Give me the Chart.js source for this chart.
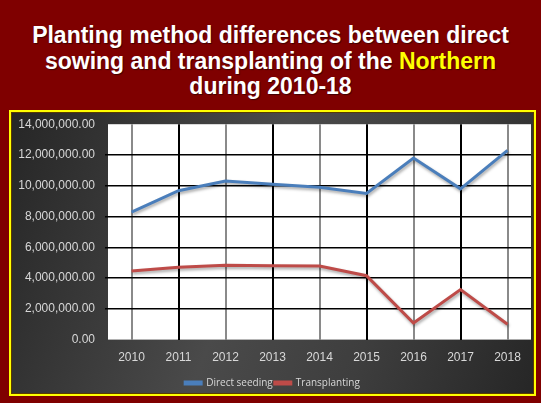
<!DOCTYPE html>
<html>
<head>
<meta charset="utf-8">
<script src="https://cdn.jsdelivr.net/npm/chart.js@4"></script>
<style>
  html, body { margin: 0; padding: 0; }
  body { width: 541px; height: 403px; background: #7f0000; position: relative; overflow: hidden; }
  #title {
    position: absolute; left: 0; top: 23px; width: 541px; text-align: center;
    font-family: "Liberation Sans", Arial, sans-serif; font-weight: bold; font-size: 23px;
    line-height: 25.5px; color: #ffffff; text-shadow: 1px 1px 1px rgba(0,0,0,0.5);
  }
  #title .hl { color: #ffff00; }
  #box {
    position: absolute; left: 9px; top: 110px; width: 523px; height: 282px;
    border: 2px solid #ffff00;
    box-shadow: inset 0 0 0 1px #5a3a00;
    background: linear-gradient(110deg, #262626 0%, #4a4a4a 45%, #3e3e3e 70%, #262626 100%);
  }
  #wrap { position: absolute; left: 3px; top: -5px; width: 521px; height: 291px; }
</style>
</head>
<body>
<div id="title">Planting method differences between direct<br>sowing and transplanting of the <span class="hl">Northern</span><br>during 2010-18</div>
<div id="box"><div id="wrap"><canvas id="chart"></canvas></div></div>
<script>
const years = ['2010', '2011', '2012', '2013', '2014', '2015', '2016', '2017', '2018'];
const directSeeding = [8280000, 9680000, 10300000, 10100000, 9900000, 9500000, 11800000, 9800000, 12300000];
const transplanting = [4460000, 4700000, 4840000, 4800000, 4780000, 4150000, 1080000, 3250000, 1000000];
const yMax = 14000000;
const yStep = 2000000;

const plotBg = {
    id: 'plotBg',
    beforeDraw(chart) {
        const { ctx, chartArea: a } = chart;
        ctx.save();
        ctx.fillStyle = '#ffffff';
        ctx.fillRect(a.left, a.top, a.right - a.left, a.bottom - a.top);
        ctx.restore();
    }
};

const lineShadow = {
    id: 'lineShadow',
    beforeDatasetsDraw(chart) {
        const ctx = chart.ctx;
        ctx.save();
        ctx.shadowColor = 'rgba(0,0,0,0.35)';
        ctx.shadowBlur = 3;
        ctx.shadowOffsetX = 1;
        ctx.shadowOffsetY = 2;
    },
    afterDatasetsDraw(chart) {
        chart.ctx.restore();
    }
};

const ctx = document.getElementById('chart').getContext('2d');
new Chart(ctx, {
    type: 'line',
    data: {
        labels: years,
        datasets: [
            {
                label: 'Direct seeding',
                data: directSeeding,
                borderColor: '#4a7ebb',
                backgroundColor: '#4a7ebb',
                borderWidth: 3,
                pointRadius: 0,
                tension: 0
            },
            {
                label: 'Transplanting',
                data: transplanting,
                borderColor: '#be4b48',
                backgroundColor: '#be4b48',
                borderWidth: 3,
                pointRadius: 0,
                tension: 0
            }
        ]
    },
    options: {
        responsive: true,
        maintainAspectRatio: false,
        animation: false,
        layout: { padding: { top: 0, right: 4, left: 0, bottom: 0 } },
        scales: {
            x: {
                offset: true,
                border: { display: false },
                grid: {
                    offset: false,
                    drawTicks: false,
                    lineWidth: 2,
                    color: c => c.index % 2 === 0 ? '#8a8a8a' : '#000000'
                },
                ticks: {
                    color: '#d8d8d8',
                    padding: 11,
                    font: { family: 'Liberation Sans, Arial', size: 12 }
                }
            },
            y: {
                min: 0,
                max: yMax,
                border: { display: false },
                afterFit(scale) { scale.width = 94; },
                grid: {
                    lineWidth: 1.5,
                    tickLength: 3,
                    color: c => (c.tick && (c.tick.value === 0 || c.tick.value === yMax)) ? 'rgba(0,0,0,0)' : '#000000'
                },
                ticks: {
                    stepSize: yStep,
                    color: '#d8d8d8',
                    padding: 10,
                    font: { family: 'Liberation Sans, Arial', size: 12 },
                    callback: v => Number(v).toLocaleString('en-US', { minimumFractionDigits: 2, maximumFractionDigits: 2 })
                }
            }
        },
        plugins: {
            legend: {
                display: true,
                position: 'bottom',
                labels: {
                    color: '#d8d8d8',
                    boxWidth: 16,
                    boxHeight: 2,
                    padding: 2,
                    font: { family: 'Open Sans, Liberation Sans', size: 10 }
                }
            },
            tooltip: { enabled: false }
        }
    },
    plugins: [plotBg, lineShadow]
});
</script>
</body>
</html>
